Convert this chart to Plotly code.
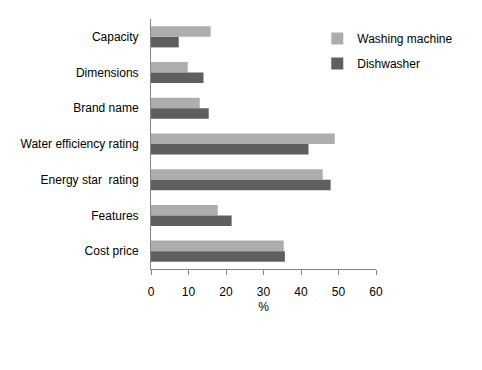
import plotly.graph_objects as go

categories = ["Capacity", "Dimensions", "Brand name", "Water efficiency rating",
              "Energy star  rating", "Features", "Cost price"]
washing_machine = [15.9, 9.8, 13.0, 49.0, 45.8, 17.8, 35.4]
dishwasher = [7.4, 14.0, 15.4, 42.0, 47.9, 21.5, 35.7]
x_ticks = [0, 10, 20, 30, 40, 50, 60]

font = dict(family="Liberation Sans, Arial, sans-serif", size=12, color="#000000")

fig = go.Figure()
fig.add_trace(go.Bar(y=categories, x=washing_machine, orientation="h",
                     name="Washing machine", legendgroup="wm",
                     marker=dict(color="#ADADAD", line_width=0)))
fig.add_trace(go.Bar(y=categories, x=dishwasher, orientation="h",
                     name="Dishwasher", legendgroup="dw",
                     marker=dict(color="#5F5F5F", line_width=0)))

fig.update_layout(
    width=482, height=370,
    margin=dict(l=143, r=114, t=11, b=109),
    paper_bgcolor="white", plot_bgcolor="white",
    barmode="group", bargap=0.41, bargroupgap=0,
    font=font,
    showlegend=True,
    legend=dict(x=0.739, y=0.98, xanchor="left", yanchor="top",
                traceorder="grouped", font=font, itemwidth=30,
                tracegroupgap=6, bgcolor="rgba(0,0,0,0)"),
    xaxis=dict(range=[0, 60], tickvals=x_ticks, ticktext=[str(v) for v in x_ticks],
               showgrid=False, zeroline=False, showline=True, linecolor="#868686",
               linewidth=1, ticks="outside", ticklen=5, tickcolor="#868686",
               ticklabelstandoff=7,
               title=dict(text="%", font=font, standoff=4)),
    yaxis=dict(autorange="reversed", showgrid=False, zeroline=False, showline=True,
               linecolor="#868686", linewidth=1, ticks="", ticklabelstandoff=9),
)

fig.write_html("out.html")
